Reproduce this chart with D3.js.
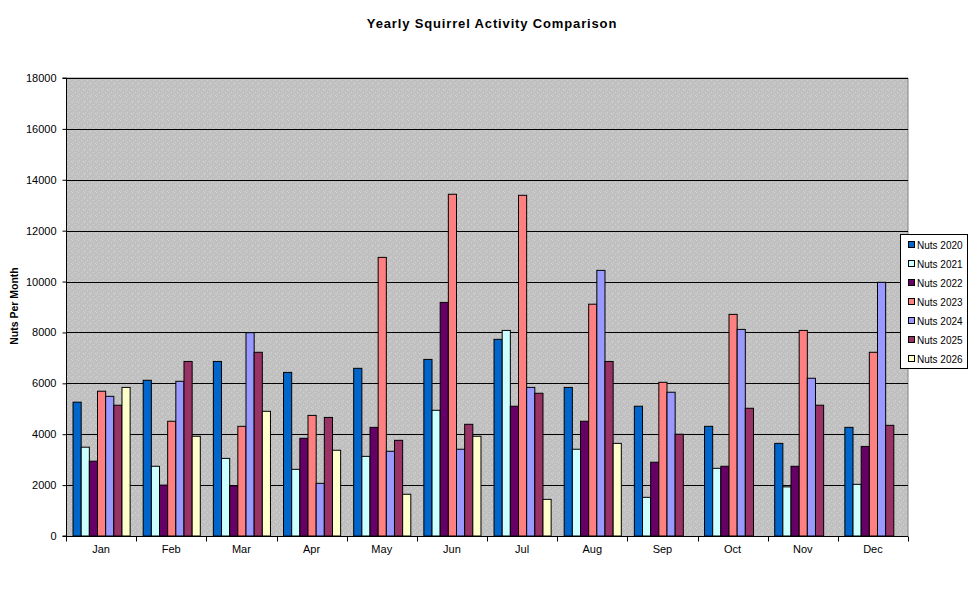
<!DOCTYPE html>
<html><head><meta charset="utf-8">
<script src="https://cdn.jsdelivr.net/npm/d3@7"></script>
<style>body{margin:0;background:#fff;}svg{display:block;font-family:"Liberation Sans",Arial,sans-serif;}</style>
</head><body><svg id="chart" width="969" height="592"></svg>
<script>
const months = ["Jan","Feb","Mar","Apr","May","Jun","Jul","Aug","Sep","Oct","Nov","Dec"];
const seriesNames = ["Nuts 2020","Nuts 2021","Nuts 2022","Nuts 2023","Nuts 2024","Nuts 2025","Nuts 2026"];
const nuts2020 = [5260, 6120, 6860, 6430, 6590, 6940, 7730, 5840, 5100, 4310, 3640, 4270];
const nuts2021 = [3490, 2740, 3050, 2620, 3130, 4940, 8080, 3410, 1520, 2660, 1930, 2030];
const nuts2022 = [2940, 2000, 1970, 3840, 4270, 9180, 5100, 4510, 2900, 2740, 2740, 3520];
const nuts2023 = [5690, 4510, 4310, 4740, 10950, 13430, 13390, 9110, 6040, 8710, 8080, 7220];
const nuts2024 = [5490, 6080, 7990, 2070, 3330, 3410, 5840, 10440, 5650, 8120, 6200, 9970];
const nuts2025 = [5140, 6860, 7220, 4660, 3760, 4390, 5610, 6860, 4000, 5020, 5140, 4350];
const nuts2026 = [5840, 3920, 4900, 3370, 1640, 3920, 1440, 3640, null, null, null, null];
const yTicks = [0,2000,4000,6000,8000,10000,12000,14000,16000,18000];
const colors = ["#0066cc","#ccffff","#660066","#ff8080","#9999ff","#993366","#ffffcc"];

const allSeries = [nuts2020,nuts2021,nuts2022,nuts2023,nuts2024,nuts2025,nuts2026];
const svg = d3.select("#chart");
const L = 66, R = 908, T = 78, B = 536;

// pattern for plot background
const defs = svg.append("defs");
const pat = defs.append("pattern").attr("id","speckle").attr("patternUnits","userSpaceOnUse").attr("width",6).attr("height",6);
pat.append("rect").attr("width",6).attr("height",6).attr("fill","#c0c0c0");
[[0,0],[3,2],[1,4],[5,5]].forEach(p=>pat.append("rect").attr("x",p[0]).attr("y",p[1]).attr("width",1).attr("height",1).attr("fill","#d4d4d4"));

const x0 = d3.scaleBand().domain(months).range([L,R]).padding(0);
const x1 = d3.scaleBand().domain(seriesNames).range([0,x0.bandwidth()]).paddingInner(0).paddingOuter(0.8);
const y = d3.scaleLinear().domain([0,18000]).range([B,T]);

svg.append("rect").attr("x",L).attr("y",T).attr("width",R-L).attr("height",B-T).attr("fill","url(#speckle)");
svg.append("path").attr("d",`M${L},${T}H${R}V${B}`).attr("fill","none").attr("stroke","#808080").attr("stroke-width",1);

// grid
svg.append("g").selectAll("line").data(yTicks.filter(d=>d>0)).join("line")
  .attr("x1",L).attr("x2",R).attr("y1",d=>Math.round(y(d))+0.5).attr("y2",d=>Math.round(y(d))+0.5)
  .attr("stroke","#000").attr("stroke-width",1);

// bars
const data = [];
months.forEach((m,i)=>allSeries.forEach((s,j)=>{ if(s[i]!=null) data.push({m, name:seriesNames[j], v:s[i], c:colors[j]}); }));
svg.append("g").selectAll("rect").data(data).join("rect")
  .attr("x",d=>x0(d.m)+x1(d.name)+0.5).attr("width",x1.bandwidth())
  .attr("y",d=>y(d.v)).attr("height",d=>B-y(d.v))
  .attr("fill",d=>d.c).attr("stroke","#000").attr("stroke-width",1);

// y axis
const yAxis = d3.axisLeft(y).tickValues(yTicks).tickSize(4).tickPadding(6).tickFormat(d3.format("d"));
const ga = svg.append("g").attr("transform",`translate(${L+0.5},0)`).call(yAxis);
ga.selectAll("text").attr("font-size","11px").attr("fill","#000").attr("font-family","'Liberation Sans',Arial,sans-serif");
ga.selectAll("line,path").attr("stroke","#000");
ga.select(".domain").attr("d",`M-4,${T}H0V${B}H-4`);

// x axis
const xAxis = d3.axisBottom(x0).tickSize(0).tickPadding(9);
const gx = svg.append("g").attr("transform",`translate(0,${B+0.5})`).call(xAxis);
gx.selectAll("text").attr("font-size","11px").attr("fill","#000").attr("font-family","'Liberation Sans',Arial,sans-serif");
gx.select(".domain").attr("stroke","#000").attr("d",`M${L},0H${R}`);
gx.append("g").selectAll("line").data(d3.range(months.length+1)).join("line")
  .attr("x1",i=>Math.round(L+i*x0.step())+0.5).attr("x2",i=>Math.round(L+i*x0.step())+0.5)
  .attr("y1",0).attr("y2",5).attr("stroke","#000");

// title
svg.append("text").attr("x",492).attr("y",28).attr("text-anchor","middle")
  .attr("font-size","13px").attr("font-weight","bold").attr("letter-spacing","0.85px").text("Yearly Squirrel Activity Comparison");

// y title
svg.append("text").attr("transform","translate(18,306) rotate(-90)").attr("text-anchor","middle")
  .attr("font-size","10.5px").attr("font-weight","bold").text("Nuts Per Month");

// legend
const lg = svg.append("g");
lg.append("rect").attr("x",900.5).attr("y",234.5).attr("width",67).attr("height",134).attr("fill","#fff").attr("stroke","#000");
const items = lg.selectAll("g").data(seriesNames).join("g").attr("transform",(d,i)=>`translate(0,${245+i*19})`);
items.append("rect").attr("x",908.5).attr("y",-3.5).attr("width",6).attr("height",6).attr("fill",(d,i)=>colors[i]).attr("stroke","#000");
items.append("text").attr("x",917).attr("y",3.5).attr("font-size","10px").text(d=>d);
</script></body></html>
